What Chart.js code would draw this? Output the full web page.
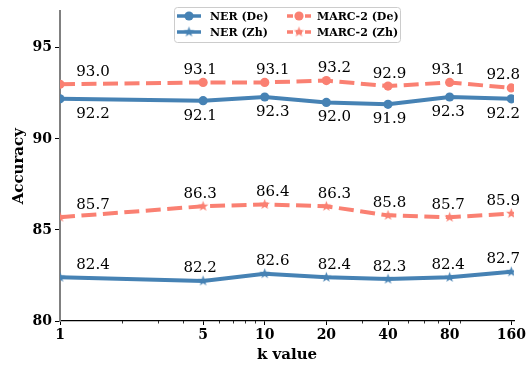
<!DOCTYPE html>
<html>
<head>
<meta charset="utf-8">
<script src="https://cdn.jsdelivr.net/npm/chart.js@4.4.1/dist/chart.umd.min.js"></script>
<style>
  html, body { margin: 0; padding: 0; background: #ffffff; }
  #wrap { width: 532px; height: 365px; position: relative; }
</style>
</head>
<body>
<div id="wrap"><canvas id="chart" width="532" height="365"></canvas></div>
<script>
// k values on the x axis (log-spaced)
const kValues = [1, 5, 10, 20, 40, 80, 160];

// accuracy per k
const nerDe   = [92.2, 92.1, 92.3, 92.0, 91.9, 92.3, 92.2];
const nerZh   = [82.4, 82.2, 82.6, 82.4, 82.3, 82.4, 82.7];
const marcDe  = [93.0, 93.1, 93.1, 93.2, 92.9, 93.1, 92.8];
const marcZh  = [85.7, 86.3, 86.4, 86.3, 85.8, 85.7, 85.9];

// y tick labels
const yTicks = [80, 85, 90, 95];

// horizontal shift (px) of the value labels for each k column
const labelShiftX = [33, -3, 8, 8, 1.5, -1.5, -8];

const BLUE = '#4682b4';
const SALMON = '#fa8072';
const SERIF = '"DejaVu Serif", serif';

// filled five-pointed star used as a point marker
function makeStar(color, outer, inner) {
  const size = Math.ceil(outer * 2 + 2);
  const c = document.createElement('canvas');
  c.width = size; c.height = size;
  const g = c.getContext('2d');
  const cx = size / 2, cy = size / 2;
  g.beginPath();
  for (let i = 0; i < 10; i++) {
    const r = i % 2 === 0 ? outer : inner;
    const a = -Math.PI / 2 + i * Math.PI / 5;
    const px = cx + r * Math.cos(a), py = cy + r * Math.sin(a);
    if (i === 0) g.moveTo(px, py); else g.lineTo(px, py);
  }
  g.closePath();
  g.fillStyle = color;
  g.fill();
  return c;
}
const blueStar = makeStar(BLUE, 5.5, 2.3);
const salmonStar = makeStar(SALMON, 5.5, 2.3);

const pairs = vals => kValues.map((k, i) => ({ x: k, y: vals[i] }));

function series(label, vals, color, dashed, marker, labelSide) {
  return {
    label,
    data: pairs(vals),
    borderColor: color,
    backgroundColor: color,
    borderWidth: 4,
    borderDash: dashed ? [15, 6.5] : [],
    pointStyle: marker,
    pointRadius: 4.6,
    pointHoverRadius: 4.6,
    pointBorderWidth: 0,
    pointBackgroundColor: color,
    tension: 0,
    clip: 0,
    labelSide
  };
}

const datasets = [
  series('NER (De)', nerDe, BLUE, false, 'circle', 'below'),
  series('NER (Zh)', nerZh, BLUE, false, blueStar, 'above'),
  series('MARC-2 (De)', marcDe, SALMON, true, 'circle', 'above'),
  series('MARC-2 (Zh)', marcZh, SALMON, true, salmonStar, 'above')
];
// later series on top
datasets.forEach((d, i) => { d.order = datasets.length - i; });

// minor log ticks on the x axis
const minorTicks = {
  id: 'minorTicks',
  afterDraw(chart) {
    const x = chart.scales.x;
    const ctx = chart.ctx;
    const y0 = chart.chartArea.bottom;
    ctx.save();
    ctx.strokeStyle = '#000';
    ctx.lineWidth = 0.8;
    for (let dec = 1; dec <= 100; dec *= 10) {
      for (let m = 2; m <= 9; m++) {
        const v = m * dec;
        if (v < x.min || v > x.max || kValues.includes(v)) continue;
        const px = Math.round(x.getPixelForValue(v)) + 0.5;
        ctx.beginPath();
        ctx.moveTo(px, y0);
        ctx.lineTo(px, y0 + 2.5);
        ctx.stroke();
      }
    }
    ctx.restore();
  }
};

// value text next to every point
const valueLabels = {
  id: 'valueLabels',
  afterDatasetsDraw(chart) {
    const ctx = chart.ctx;
    ctx.save();
    ctx.font = '15px ' + SERIF;
    ctx.fillStyle = '#000';
    ctx.textAlign = 'center';
    ctx.textBaseline = 'alphabetic';
    chart.data.datasets.forEach((ds, di) => {
      const meta = chart.getDatasetMeta(di);
      meta.data.forEach((pt, i) => {
        const txt = ds.data[i].y.toFixed(1);
        const tx = pt.x + labelShiftX[i];
        const ty = ds.labelSide === 'below' ? pt.y + 19 : pt.y - 8.5;
        ctx.fillText(txt, tx, ty);
      });
    });
    ctx.restore();
  }
};

// two-column legend box with line + marker handles
const boxLegend = {
  id: 'boxLegend',
  afterDraw(chart) {
    const ctx = chart.ctx;
    const bx = 174.5, by = 7.5, bw = 226, bh = 35;
    ctx.save();
    ctx.beginPath();
    ctx.roundRect(bx, by, bw, bh, 3);
    ctx.fillStyle = 'rgba(255,255,255,0.8)';
    ctx.fill();
    ctx.strokeStyle = '#cccccc';
    ctx.lineWidth = 1;
    ctx.stroke();

    const cols = [{ hx: 177, tx: 210 }, { hx: 287, tx: 317 }];
    const rows = [16, 32];
    const order = [[0, 1], [2, 3]]; // column -> dataset indices
    ctx.font = 'bold 11px ' + SERIF;
    ctx.textBaseline = 'middle';
    ctx.textAlign = 'left';
    order.forEach((idxs, c) => {
      idxs.forEach((di, r) => {
        const ds = chart.data.datasets[di];
        const y = rows[r];
        const x0 = cols[c].hx, x1 = x0 + 24;
        ctx.strokeStyle = ds.borderColor;
        ctx.lineWidth = 3.5;
        ctx.setLineDash(ds.borderDash.length ? [6, 3] : []);
        ctx.beginPath();
        ctx.moveTo(x0, y);
        ctx.lineTo(x1, y);
        ctx.stroke();
        ctx.setLineDash([]);
        const mx = (x0 + x1) / 2;
        if (ds.pointStyle === 'circle') {
          ctx.beginPath();
          ctx.arc(mx, y, 4.6, 0, Math.PI * 2);
          ctx.fillStyle = ds.borderColor;
          ctx.fill();
        } else {
          const img = ds.pointStyle;
          ctx.drawImage(img, mx - img.width / 2, y - img.height / 2);
        }
        ctx.fillStyle = '#000';
        ctx.fillText(ds.label, cols[c].tx, y + 1);
      });
    });
    ctx.restore();
  }
};

new Chart(document.getElementById('chart'), {
  type: 'line',
  data: { datasets },
  plugins: [minorTicks, valueLabels, boxLegend],
  options: {
    responsive: false,
    animation: false,
    events: [],
    layout: { padding: { top: 1, right: 18, left: 0, bottom: 0 } },
    plugins: { legend: { display: false }, tooltip: { enabled: false } },
    scales: {
      x: {
        type: 'logarithmic',
        min: 1,
        max: 165,
        afterBuildTicks: s => { s.ticks = kValues.map(v => ({ value: v })); },
        afterFit: s => { s.height = 44; },
        ticks: {
          autoSkip: false,
          maxRotation: 0,
          padding: 2,
          color: '#000',
          font: { family: SERIF, size: 14, weight: 'bold' },
          callback: v => String(v)
        },
        grid: { drawOnChartArea: false, tickLength: 4, tickColor: '#000', tickWidth: 1 },
        border: { color: '#000', width: 1.3 },
        title: {
          display: true,
          text: 'k value',
          color: '#000',
          font: { family: SERIF, size: 15, weight: 'bold' },
          padding: { top: 0, bottom: 1 }
        }
      },
      y: {
        type: 'linear',
        min: 80,
        max: 97,
        afterBuildTicks: s => { s.ticks = yTicks.map(v => ({ value: v })); },
        afterFit: s => { s.width = 60; },
        ticks: {
          padding: 3,
          color: '#000',
          font: { family: SERIF, size: 14, weight: 'bold' },
          callback: v => String(v)
        },
        grid: { drawOnChartArea: false, tickLength: 5, tickColor: '#000', tickWidth: 1 },
        border: { color: '#808080', width: 2 },
        title: {
          display: true,
          text: 'Accuracy',
          color: '#000',
          font: { family: SERIF, size: 15, weight: 'bold' },
          padding: { top: 10, bottom: 0 }
        }
      }
    }
  }
});
</script>
</body>
</html>
